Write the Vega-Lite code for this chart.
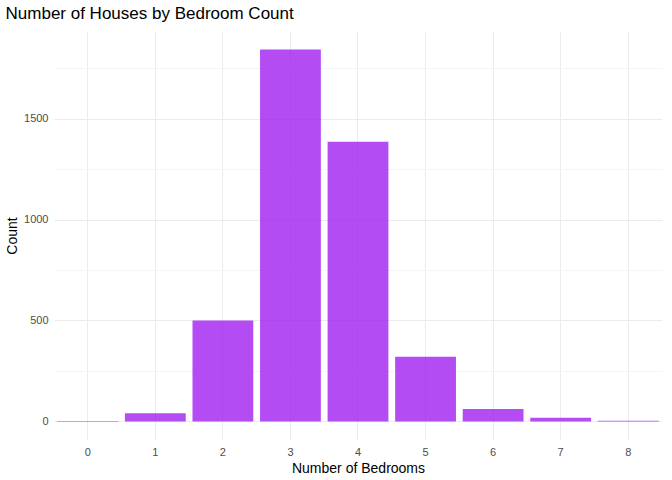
{
"$schema":"https://vega.github.io/schema/vega-lite/v6.json",
"width":672,"height":480,
"autosize":{"type":"fit","contains":"padding"},
"padding":{"left":5,"right":10,"top":5,"bottom":5},
"title":{"text":"Number of Houses by Bedroom Count","anchor":"start","font":"Liberation Sans","fontSize":17,"fontWeight":"normal","color":"#000000","offset":8},
"config":{"view":{"stroke":null},"font":"Liberation Sans"},
"data":{"values":[
{"bedrooms":"0","count":2},{"bedrooms":"1","count":40},{"bedrooms":"2","count":500},
{"bedrooms":"3","count":1842},{"bedrooms":"4","count":1386},{"bedrooms":"5","count":320},
{"bedrooms":"6","count":62},{"bedrooms":"7","count":18},{"bedrooms":"8","count":3}]},
"mark":{"type":"bar","color":"#a020f0","opacity":0.8},
"encoding":{
"x":{"field":"bedrooms","type":"ordinal","scale":{"paddingInner":0.1,"paddingOuter":0.05},
"axis":{"labelAngle":0,"title":"Number of Bedrooms","titleFontSize":14,"titleFontWeight":"normal","titleColor":"#000","labelColor":"#4d4d4d","labelFontSize":11,"domain":false,"ticks":false,"grid":true,"gridColor":"#ebebeb","labelPadding":6,"titlePadding":4}},
"y":{"field":"count","type":"quantitative","scale":{"domain":[-92,1934],"zero":false,"nice":false},
"axis":{"values":[0,250,500,750,1000,1250,1500,1750],"format":"d","labelExpr":"datum.value % 500 === 0 ? datum.label : ''",
"gridColor":{"condition":{"test":"datum.value % 500 === 0","value":"#ebebeb"},"value":"#f5f5f5"},
"title":"Count","titleFontSize":14,"titleFontWeight":"normal","titleColor":"#000","labelColor":"#4d4d4d","labelFontSize":11,"domain":false,"ticks":false,"labelPadding":6}}}
}
